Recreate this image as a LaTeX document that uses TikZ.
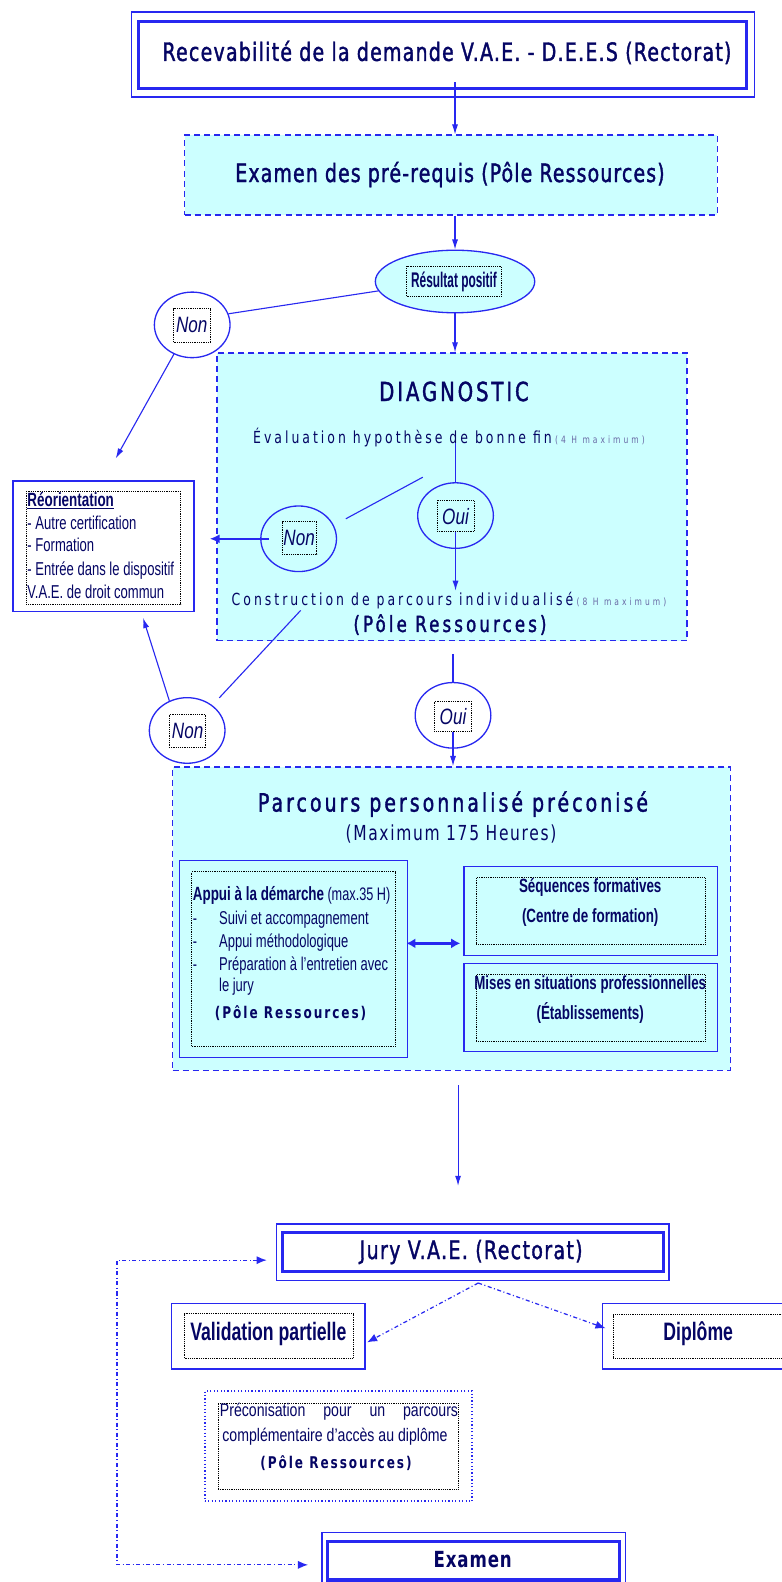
\documentclass[tikz,border=0pt]{standalone}
\usepackage{fontspec}
\usetikzlibrary{shapes.geometric,fit,arrows.meta,calc}
\newfontfamily\spc[FakeStretch=0.75]{DejaVu Sans}
\newfontfamily\nar[FakeStretch=0.7]{Liberation Sans}
\definecolor{lb}{RGB}{40,40,240}
\definecolor{navy}{RGB}{5,5,100}
\definecolor{cyanfill}{RGB}{204,255,255}
\definecolor{grayb}{RGB}{105,105,165}
\newcommand\SPT[4]{{\spc#3\addfontfeature{LetterSpace=#2}\fontsize{#1}{#1}\selectfont #4}}
\newcommand\NRT[3]{{\nar#2\fontsize{#1}{#1}\selectfont #3}}
\newcommand\FB{\addfontfeature{FakeBold=1.5}}
\tikzset{
  lbox/.style={draw=lb, line width=1.3pt, inner sep=0pt},
  tbox/.style={draw=lb, line width=3pt, inner sep=0pt},
  dbox/.style={draw=lb, dash pattern=on 6pt off 4pt, line width=1.4pt, fill=cyanfill, inner sep=0pt},
  dotb/.style={draw=black, dash pattern=on 0.9pt off 0.9pt, line width=0.7pt, inner sep=0pt},
  oval/.style={ellipse, draw=lb, line width=1.3pt, minimum width=75pt, minimum height=65pt, inner sep=0pt},
  ln/.style={draw=lb, line width=1.1pt},
  arr/.style={draw=lb, line width=1.1pt, -{Latex[length=10pt,width=6pt]}},
  arrthick/.style={draw=lb, line width=2.2pt, -{Latex[length=10pt,width=9pt]}},
  dblarr/.style={draw=lb, line width=3pt, {Latex[length=9pt,width=10pt]}-{Latex[length=9pt,width=10pt]}},
  dda/.style={draw=lb, line width=1.2pt, dash pattern=on 4pt off 2.5pt on 1pt off 2.5pt, -{Latex[length=10pt,width=8pt]}},
  ddboth/.style={draw=lb, line width=1.2pt, dash pattern=on 4pt off 2.5pt on 1pt off 2.5pt, {Latex[length=10pt,width=8pt]}-{Latex[length=10pt,width=8pt]}},
  bdot/.style={draw=lb, line width=2pt, dash pattern=on 1.2pt off 2.2pt, inner sep=0pt},
  txt/.style={inner sep=0pt},
}
\begin{document}
\begin{tikzpicture}[x=1pt,y=-1pt, every node/.append style={text=navy}]
\fill[white] (0,0) rectangle (775,1568);
\useasboundingbox (0,0) rectangle (775,1568);

% ---------- top ----------
\node[lbox, fit={(130,12)(748,96)}] (recO) {};
\node[tbox, fit={(137,21)(740,88)}] (rec) {};
\node[txt] (recT) at (443,52) {\SPT{25}{5}{\FB}{Recevabilité de la demande V.A.E. - D.E.E.S (Rectorat)}};
\node[dbox, fit={(183,134)(711,213)}] (exa) {};
\node[txt] (exaT) at (446,173) {\SPT{25}{4.5}{\FB}{Examen des pré-requis (Pôle Ressources)}};

\node[ellipse, draw=lb, fill=cyanfill, line width=1.3pt, minimum width=158pt, minimum height=62pt, inner sep=0pt] (res) at (451,279) {};
\node[dotb, fit={(403,264)(497,294)}] (resB) {};
\node[txt] (resT) at (450,279) {\scalebox{.8}[1]{\NRT{21}{\bfseries}{Résultat positif}}};

\node[oval] (non1) at (190.5,322) {};
\node[dotb, fit={(172,306)(208,339)}] (non1B) {};
\node[txt] (non1T) at (190,322.5) {\scalebox{1.1}[1]{\NRT{22}{\itshape}{Non}}};

% ---------- diagnostic ----------
\node[dbox, fit={(215,350)(681,635)}] (diag) {};
\node[txt] (diagT) at (450,388) {\SPT{26}{11}{\FB}{DIAGNOSTIC}};
\node[txt] (evalT) at (445,434) {\SPT{16.5}{18}{}{Évaluation hypothèse de bonne fin} \SPT{10}{30}{\color{grayb}}{(4 H maximum)}};
\node[oval] (oui1) at (451.5,511) {};
\node[dotb, fit={(433,496)(470,527)}] (oui1B) {};
\node[txt] (oui1T) at (451.5,511.5) {\scalebox{1.1}[1]{\NRT{22}{\itshape}{Oui}}};
\node[oval] (non2) at (296,534) {};
\node[dotb, fit={(279.5,517)(314,549)}] (non2B) {};
\node[txt] (non2T) at (296.5,533.5) {\scalebox{1.1}[1]{\NRT{22}{\itshape}{Non}}};
\node[inner sep=1pt] (constr) at (445,595) {\SPT{16.5}{18}{}{Construction de parcours individualisé} \SPT{10}{30}{\color{grayb}}{(8 H maximum)}};
\node[txt] (diagP) at (446,619) {\SPT{22}{14}{\FB}{(Pôle Ressources)}};

% ---------- reorientation ----------
\node[lbox, line width=1.6pt, fit={(13,477)(192,606)}] (reo) {};
\node[dotb, fit={(26,487)(179,599)}] (reoI) {};
\node[anchor=base west, inner sep=0pt] (r1) at (27,502) {\NRT{19}{\bfseries}{\underline{Réorientation}}};
\node[anchor=base west, inner sep=0pt] (r2) at (27,525) {\NRT{18.5}{}{- Autre certification}};
\node[anchor=base west, inner sep=0pt] (r3) at (27,547) {\NRT{18.5}{}{- Formation}};
\node[anchor=base west, inner sep=0pt] (r4) at (27,570) {\NRT{18.5}{}{- Entrée dans le dispositif}};
\node[anchor=base west, inner sep=0pt] (r5) at (27,593) {\NRT{18.5}{}{V.A.E. de droit commun}};

\node[oval] (non3) at (185.5,724) {};
\node[dotb, fit={(167.5,708)(204,741)}] (non3B) {};
\node[txt] (non3T) at (186,724.5) {\scalebox{1.1}[1]{\NRT{22}{\itshape}{Non}}};
\node[oval] (oui2) at (449,709) {};
\node[dotb, fit={(430.5,695)(467.5,725)}] (oui2B) {};
\node[txt] (oui2T) at (449,710) {\scalebox{1.1}[1]{\NRT{22}{\itshape}{Oui}}};

% ---------- parcours ----------
\node[dbox, fit={(171,760)(724,1061)}] (par) {};
\node[txt] (parT) at (449,797) {\SPT{25}{12}{\FB}{Parcours personnalisé préconisé}};
\node[txt] (parM) at (447,827) {\SPT{20.5}{8}{}{(Maximum 175 Heures)}};

\node[lbox, line width=1.6pt, fit={(178,853)(404,1048)}] (apO) {};
\node[dotb, fit={(190,864)(392,1037)}] (apI) {};
\node[anchor=base west, inner sep=0pt] (ap1) at (191,893) {\NRT{19}{\bfseries}{Appui à la démarche} \NRT{18}{}{(max.35 H)}};
\node[anchor=base west, inner sep=0pt] (d2) at (191,916) {\NRT{18}{}{-}};
\node[anchor=base west, inner sep=0pt] (ap2) at (217,916) {\NRT{18.4}{}{Suivi et accompagnement}};
\node[anchor=base west, inner sep=0pt] (d3) at (191,939) {\NRT{18}{}{-}};
\node[anchor=base west, inner sep=0pt] (ap3) at (217,939) {\NRT{18.4}{}{Appui méthodologique}};
\node[anchor=base west, inner sep=0pt] (d4) at (191,962) {\NRT{18}{}{-}};
\node[anchor=base west, inner sep=0pt] (ap4) at (217,962) {\NRT{18.4}{}{Préparation à l’entretien avec}};
\node[anchor=base west, inner sep=0pt] (ap5) at (217,983) {\NRT{18.4}{}{le jury}};
\node[txt] (apP) at (288,1004) {\SPT{16}{12}{\bfseries}{(Pôle Ressources)}};

\node[lbox, line width=1.6pt, fit={(460,859)(711,947)}] (seqO) {};
\node[dotb, fit={(472,870)(699,936)}] (seqI) {};
\node[txt] (s1) at (585,880) {\NRT{19}{\bfseries}{Séquences formatives}};
\node[txt] (s2) at (585,909) {\NRT{19}{\bfseries}{(Centre de formation)}};

\node[lbox, line width=1.6pt, fit={(460,955)(711,1042)}] (misO) {};
\node[dotb, fit={(472,966)(699,1032)}] (misI) {};
\node[txt] (m1) at (585,976) {\NRT{18.8}{\bfseries}{Mises en situations professionnelles}};
\node[txt] (m2) at (585,1004) {\NRT{19}{\bfseries}{(Établissements)}};

% ---------- jury ----------
\node[lbox, fit={(274,1213)(663,1269)}] (juryO) {};
\node[tbox, fit={(280,1222)(658,1260)}] (jury) {};
\node[txt] (juryT) at (467,1241) {\SPT{25}{5.5}{\FB}{Jury V.A.E. (Rectorat)}};

\node[lbox, line width=1.6pt, fit={(170,1292)(362,1357)}] (valO) {};
\node[dotb, fit={(183,1302)(350,1346)}] (valI) {};
\node[txt] (valT) at (266,1322) {\NRT{25}{\bfseries}{Validation partielle}};
\node[lbox, line width=1.6pt, fit={(597,1292)(785,1357)}] (dipO) {};
\node[dotb, fit={(608,1303)(775,1346)}] (dipI) {};
\node[txt] (dipT) at (692,1322) {\NRT{25}{\bfseries}{Diplôme}};

\node[bdot, fit={(203,1379)(468,1488)}] (preO) {};
\node[dotb, fit={(216,1391)(454,1476)}] (preI) {};
\node[txt] (p1) at (336,1399) {\scalebox{1.11}[1]{\NRT{18}{}{\makebox[212.6pt][s]{Préconisation pour un parcours}}}};
\node[txt] (p2) at (332,1424) {\scalebox{1.11}[1]{\NRT{18}{}{complémentaire d’accès au diplôme}}};
\node[txt] (p3) at (333,1450) {\SPT{16}{12}{\bfseries}{(Pôle Ressources)}};

\node[lbox, fit={(319,1519)(620,1575)}] (exO) {};
\node[tbox, fit={(325,1528)(614,1566)}] (exI) {};
\node[txt] (exT) at (468.5,1546) {\SPT{22}{4}{\bfseries}{Examen}};

% ---------- connectors ----------
\coordinate (a1) at ($(rec.south -| res)+(0,-8)$);
\draw[arr] (a1) -- (exa.north -| res);
\draw[arr] (exa.south -| res) -- (res.north);
\draw[ln] (res.187) -- (non1.17);
\draw[arr, shorten >=25pt] (non1.238) -- (reo.north);
\draw[arr] (res.south) -- (res.south |- diag.north);

\coordinate (evtop) at (451.5,439);
\draw[ln] (evtop) -- (oui1.north);
\draw[arr] (oui1B.south) -- (oui1B.south |- constr.north);
\coordinate (dl1) at (419,473);
\draw[ln, shorten >=13.5pt] (dl1) -- (non2.21);
\draw[arrthick, shorten >=15pt] ($(non2.west)+(9,0)$) -- (reo.east |- non2.west);
\coordinate (c1) at (298,605);
\draw[ln, shorten >=10pt] (c1) -- (non3.45);
\draw[arr, shorten >=6pt] (non3.121) -- ($(reo.south)+(37.5,0)$);

\coordinate (o2top) at (449,648);
\draw[ln] (o2top) -- (oui2.north);
\draw[arr] (oui2B.south) -- (oui2B.south |- par.north);

\draw[dblarr] ($(apO.east)+(-2,-15.5)$) -- ($(seqO.west |- apO.east)+(-3,-15.5)$);

\coordinate (pj) at ($(par.south)+(6.5,0)$);
\draw[arr, shorten <=14pt, shorten >=37pt] (pj) -- (pj |- juryO.north);

\coordinate (js) at ($(juryO.south)+(5.5,2)$);
\draw[dda] (js) -- ($(valO.east)+(1,6)$);
\draw[dda] (js) -- ($(dipO.west)+(4,-8)$);

\coordinate (jl) at ($(juryO.west)+(0,8)$);
\coordinate (el) at ($(exO.west)+(0,4)$);
\coordinate (lx) at (116,1400);
\draw[ddboth, shorten <=9pt, shorten >=13pt] (jl) -| (lx) |- (el);
\end{tikzpicture}
\end{document}
